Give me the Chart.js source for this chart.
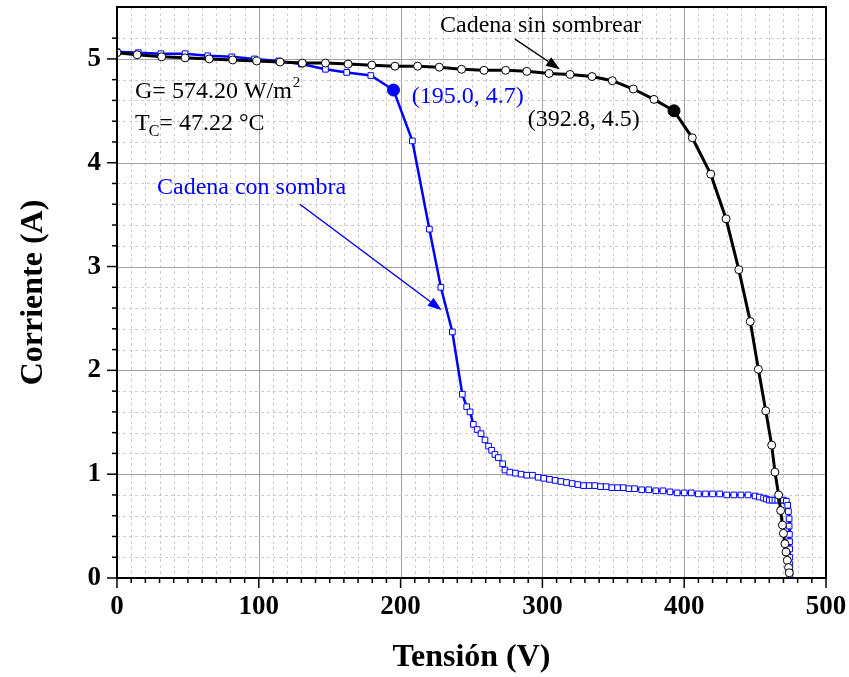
<!DOCTYPE html>
<html>
<head>
<meta charset="utf-8">
<script src="https://cdn.jsdelivr.net/npm/chart.js@4"></script>
<style>
  html, body { margin: 0; padding: 0; background: #fff; }
</style>
</head>
<body>
<canvas id="chart" width="849" height="677"></canvas>
<script>
"use strict";

// Cadena sin sombrear (negro)
const V_SIN = [0, 14.2, 31.5, 48, 65, 81.6, 98.5, 115, 130.7, 147, 163, 179.7, 196, 212,
  227.3, 243, 258.8, 274.1, 289, 304.7, 319.5, 335, 349.3, 364.1, 378.7, 392.8, 405.7,
  418.7, 429.5, 438.5, 446.6, 452.3, 457.5, 461.7, 464.0, 466.6, 468.0, 469.3, 470.0,
  471.0, 471.8, 472.7, 473.6, 474.1];
const I_SIN = [5.06, 5.04, 5.02, 5.01, 5.00, 4.99, 4.98, 4.97, 4.96, 4.96, 4.95, 4.94, 4.93, 4.93,
  4.92, 4.90, 4.89, 4.89, 4.88, 4.86, 4.85, 4.83, 4.79, 4.71, 4.61, 4.50, 4.24,
  3.89, 3.46, 2.97, 2.47, 2.01, 1.61, 1.28, 1.02, 0.80, 0.65, 0.51, 0.43,
  0.33, 0.25, 0.17, 0.10, 0.05];

// Cadena con sombra (azul)
const V_SOMBRA = [0, 15, 31, 48, 64, 81, 97, 114, 130, 147, 162, 179, 195, 208.3, 220.3, 228.4,
  236.5, 243.5, 246.6, 249.0, 251.3, 254, 256.7, 259.5, 262, 264.2, 266.5, 268.9, 272.0,
  273.6, 277, 281, 285, 289, 293, 297, 301, 305, 309, 313, 317, 321, 325, 329, 333, 337,
  341, 345, 349, 353, 357, 361, 365, 370, 375, 380, 385, 390, 395, 400, 405, 410, 415,
  420, 425, 430, 435, 440, 445, 450, 453, 456, 458, 460, 462, 464, 466, 468, 470, 472,
  473, 473.5, 474, 474, 474.2, 474.3, 474.4, 474.5, 474.5, 474.6, 474.6];
const I_SOMBRA = [5.07, 5.06, 5.05, 5.05, 5.03, 5.02, 5.00, 4.98, 4.95, 4.90, 4.87, 4.84, 4.70, 4.21, 3.36, 2.80,
  2.37, 1.77, 1.65, 1.60, 1.48, 1.43, 1.39, 1.33, 1.27, 1.23, 1.19, 1.16, 1.10,
  1.04, 1.02, 1.01, 1.00, 0.99, 0.99, 0.97, 0.96, 0.95, 0.94, 0.93, 0.92, 0.91, 0.90, 0.89, 0.89, 0.89,
  0.88, 0.88, 0.87, 0.87, 0.87, 0.86, 0.86, 0.85, 0.85, 0.84, 0.84, 0.83, 0.82, 0.82, 0.82, 0.81, 0.81,
  0.81, 0.81, 0.80, 0.80, 0.80, 0.80, 0.79, 0.78, 0.77, 0.76, 0.75, 0.75, 0.75, 0.75, 0.75, 0.75, 0.74,
  0.70, 0.64, 0.57, 0.50, 0.42, 0.35, 0.28, 0.20, 0.13, 0.06, 0.02];

// puntos de máxima potencia
const PMP_SIN = [392.8, 4.5];
const PMP_SOMBRA = [195.0, 4.7];

const X_TICKS = [0, 100, 200, 300, 400, 500];
const Y_TICKS = [0, 1, 2, 3, 4, 5];

const SERIF = "'Liberation Serif', 'Times New Roman', serif";
const BLUE = '#0000ff';

const toXY = (xs, ys) => xs.map((v, i) => ({x: v, y: ys[i]}));
const isStep = (v, s) => Math.abs(v / s - Math.round(v / s)) < 1e-6;

// rejilla, marcas y marco, como en Origin
const framePlugin = {
  id: 'frame',
  beforeDatasetsDraw(chart) {
    const {ctx, chartArea: a, scales: {x, y}} = chart;
    ctx.save();
    ctx.lineWidth = 1;
    for (const t of x.ticks) {
      if (t.value <= 0 || t.value >= 500) continue;
      const px = Math.round(x.getPixelForValue(t.value)) + 0.5;
      const major = isStep(t.value, 100);
      ctx.strokeStyle = major ? '#a0a0a0' : '#cccccc';
      ctx.setLineDash(major ? [] : [3, 3]);
      ctx.beginPath(); ctx.moveTo(px, a.top); ctx.lineTo(px, a.bottom); ctx.stroke();
    }
    for (const t of y.ticks) {
      if (t.value <= 0 || !isStep(t.value, 0.2)) continue;
      const py = Math.round(y.getPixelForValue(t.value)) + 0.5;
      const major = isStep(t.value, 1);
      ctx.strokeStyle = major ? '#a0a0a0' : '#cccccc';
      ctx.setLineDash(major ? [] : [3, 3]);
      ctx.beginPath(); ctx.moveTo(a.left, py); ctx.lineTo(a.right, py); ctx.stroke();
    }
    ctx.restore();
  },
  afterDatasetsDraw(chart) {
    const {ctx, chartArea: a, scales: {x, y}} = chart;
    ctx.save();
    ctx.strokeStyle = '#000';
    ctx.lineWidth = 1.5;
    for (const t of x.ticks) {
      const px = x.getPixelForValue(t.value);
      const len = isStep(t.value, 100) ? 10 : 5;
      ctx.beginPath(); ctx.moveTo(px, a.bottom); ctx.lineTo(px, a.bottom + len); ctx.stroke();
    }
    for (const t of y.ticks) {
      if (!isStep(t.value, 0.2)) continue;
      const py = y.getPixelForValue(t.value);
      const len = isStep(t.value, 1) ? 10 : 5;
      ctx.beginPath(); ctx.moveTo(a.left, py); ctx.lineTo(a.left - len, py); ctx.stroke();
    }
    ctx.lineWidth = 2;
    ctx.strokeRect(a.left, a.top, a.right - a.left, a.bottom - a.top);
    ctx.restore();
  }
};

function arrow(ctx, x0, y0, x1, y1, color) {
  const ang = Math.atan2(y1 - y0, x1 - x0);
  const L = 14, W = 5;
  ctx.strokeStyle = color;
  ctx.fillStyle = color;
  ctx.lineWidth = 1.5;
  ctx.beginPath();
  ctx.moveTo(x0, y0);
  ctx.lineTo(x1 - L * Math.cos(ang), y1 - L * Math.sin(ang));
  ctx.stroke();
  ctx.beginPath();
  ctx.moveTo(x1, y1);
  ctx.lineTo(x1 - L * Math.cos(ang) + W * Math.sin(ang), y1 - L * Math.sin(ang) - W * Math.cos(ang));
  ctx.lineTo(x1 - L * Math.cos(ang) - W * Math.sin(ang), y1 - L * Math.sin(ang) + W * Math.cos(ang));
  ctx.closePath();
  ctx.fill();
}

// textos y flechas en coordenadas de datos
const notesPlugin = {
  id: 'notes',
  afterDraw(chart) {
    const {ctx, scales: {x, y}} = chart;
    const X = v => x.getPixelForValue(v);
    const Y = v => y.getPixelForValue(v);
    ctx.save();
    ctx.textBaseline = 'alphabetic';
    ctx.textAlign = 'left';
    ctx.font = `24px ${SERIF}`;

    ctx.fillStyle = '#000';
    ctx.fillText('Cadena sin sombrear', X(227.8), Y(5.26));
    arrow(ctx, X(280.7), Y(5.19), X(312.4), Y(4.90), '#000');

    // G y Tc
    let gx = X(12.7), gy = Y(4.62);
    ctx.fillText('G= 574.20 W/m', gx, gy);
    let w = ctx.measureText('G= 574.20 W/m').width;
    ctx.font = `15px ${SERIF}`;
    ctx.fillText('2', gx + w + 1, gy - 11);
    ctx.font = `24px ${SERIF}`;
    let ty = Y(4.32);
    ctx.fillText('T', gx, ty);
    w = ctx.measureText('T').width;
    ctx.font = `16px ${SERIF}`;
    ctx.fillText('C', gx + w - 1, ty + 6);
    const wc = ctx.measureText('C').width;
    ctx.font = `24px ${SERIF}`;
    ctx.fillText('= 47.22 °C', gx + w - 1 + wc, ty);

    ctx.fillText('(392.8, 4.5)', X(289.6), Y(4.35));

    ctx.fillStyle = BLUE;
    ctx.fillText('(195.0, 4.7)', X(207.8), Y(4.575));
    ctx.fillText('Cadena con sombra', X(28.2), Y(3.70));
    arrow(ctx, X(129), Y(3.60), X(229), Y(2.58), BLUE);
    ctx.restore();
  }
};

new Chart(document.getElementById('chart'), {
  type: 'scatter',
  data: {
    datasets: [
      {
        label: 'PMP sin sombrear',
        data: [{x: PMP_SIN[0], y: PMP_SIN[1]}],
        pointRadius: 6, pointBackgroundColor: '#000', pointBorderColor: '#000', showLine: false
      },
      {
        label: 'PMP con sombra',
        data: [{x: PMP_SOMBRA[0], y: PMP_SOMBRA[1]}],
        pointRadius: 6, pointBackgroundColor: BLUE, pointBorderColor: BLUE, showLine: false
      },
      {
        label: 'Cadena sin sombrear',
        data: toXY(V_SIN, I_SIN),
        showLine: true,
        borderColor: '#000',
        borderWidth: 3,
        pointStyle: 'circle',
        pointRadius: 4,
        pointBackgroundColor: '#fff',
        pointBorderColor: '#000',
        pointBorderWidth: 1
      },
      {
        label: 'Cadena con sombra',
        data: toXY(V_SOMBRA, I_SOMBRA),
        showLine: true,
        borderColor: BLUE,
        borderWidth: 2.5,
        pointStyle: 'rect',
        pointRadius: 4,
        pointBackgroundColor: '#fff',
        pointBorderColor: BLUE,
        pointBorderWidth: 1
      }
    ]
  },
  options: {
    responsive: false,
    animation: false,
    layout: { padding: { left: 0, top: 6, right: 23, bottom: 0 } },
    plugins: {
      legend: { display: false },
      tooltip: { enabled: false }
    },
    scales: {
      x: {
        type: 'linear',
        min: 0,
        max: 500,
        grid: { display: false, drawTicks: false },
        border: { display: false },
        ticks: {
          stepSize: 10,
          autoSkip: false,
          maxRotation: 0,
          padding: 13,
          color: '#000',
          font: { family: SERIF, size: 27, weight: 'bold' },
          callback: v => X_TICKS.includes(v) ? String(v) : ''
        },
        title: {
          display: true,
          text: 'Tensión (V)',
          color: '#000',
          padding: { top: 0, bottom: 0 },
          font: { family: SERIF, size: 32, weight: 'bold' }
        },
        afterFit: s => {
          s.height = 99;
          s.paddingLeft = 0;
          s.paddingRight = 0;
        }
      },
      y: {
        type: 'linear',
        min: 0,
        max: 5.5,
        grid: { display: false, drawTicks: false },
        border: { display: false },
        ticks: {
          stepSize: 0.2,
          autoSkip: false,
          padding: 16,
          color: '#000',
          font: { family: SERIF, size: 27, weight: 'bold' },
          callback: v => Y_TICKS.some(t => Math.abs(t - v) < 1e-6) ? String(Math.round(v)) : ''
        },
        title: {
          display: true,
          text: 'Corriente (A)',
          color: '#000',
          padding: { top: 15, bottom: 0 },
          font: { family: SERIF, size: 32, weight: 'bold' }
        },
        afterFit: s => {
          s.width = 117;
          s.paddingTop = 0;
          s.paddingBottom = 0;
        }
      }
    }
  },
  plugins: [framePlugin, notesPlugin]
});
</script>
</body>
</html>
